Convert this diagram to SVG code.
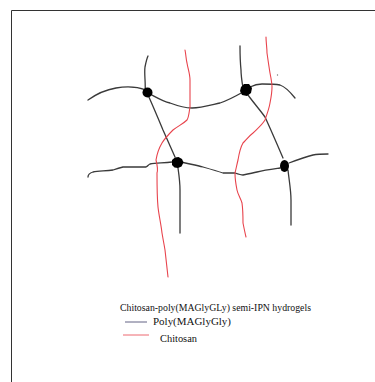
<svg xmlns="http://www.w3.org/2000/svg" width="375" height="382" viewBox="0 0 375 382">
  <style>
    .net { fill: none; stroke: #3a3a3a; stroke-width: 1.3; stroke-linecap: round; stroke-linejoin: round; }
    .chain { fill: none; stroke: #e8434c; stroke-width: 1.1; stroke-linecap: round; stroke-linejoin: round; }
    .xlink { fill: #000; }
    .label { font-family: "Liberation Serif", "Times New Roman", serif; font-size: 10.5px; fill: #111; }
  </style>
  <rect width="375" height="382" fill="#fff"/>
  <!-- page frame -->
  <path d="M11.5 382 V10.5 H375" fill="none" stroke="#333" stroke-width="1"/>

  <!-- poly(MAGlyGly) network strands and chitosan chains -->
  <g id="connectors">
    <path class="net" d="M145 93 C146 84 144 74 145 67 C146 62 147 58 148 56"/>
    <path class="net" d="M146 90 C138 87 127 86 116 88 C104 90 95 95 88 100"/>
    <path class="net" d="M148 93 C156 97 162 101 170 103 C178 106 185 108 192 108 C201 108 211 105 220 103 C229 100 236 96 243 92"/>
    <path class="net" d="M243 88 C242 82 241 76 241 70 C240 60 240 52 240 46"/>
    <path class="net" d="M250 87 C254 85 258 84 262 84 C268 84 275 84 280 85 C286 87 291 93 295 98"/>
    <path class="net" d="M148 95 C153 106 158 118 163 130 C167 139 171 148 175 157"/>
    <path class="net" d="M248 95 C253 102 260 110 265 117 C271 130 277 144 283 158"/>
    <path class="net" d="M172 162 C164 163 156 163 150 164 C148 165 148 166 146 167 C138 167 130 167 123 167 C119 168 116 169 113 170 C106 171 99 171 93 172 C90 173 88 175 88 177"/>
    <path class="net" d="M181 162 C189 164 196 165 203 167 C210 169 217 171 223 173 C227 173 231 173 235 173 C238 174 241 175 243 175 C248 174 253 173 257 172 C265 170 273 169 280 168"/>
    <path class="net" d="M289 163 C297 160 305 157 313 155 C318 154 323 154 328 154"/>
    <path class="net" d="M178 168 C179 175 180 183 180 190 C180 205 180 220 180 233"/>
    <path class="net" d="M288 170 C289 180 291 190 291 200 C291 209 291 217 291 225"/>

    <path class="chain" d="M185 50 C186 55 186 59 187 63 C188 69 190 74 190 80 C190 89 190 98 190 107 C189 112 189 117 187 120 C183 124 178 126 173 130 C169 134 165 138 162 143 C159 148 157 154 156 160 C157 164 158 170 157 173 C157 185 157 196 158 207 C159 216 161 224 162 233 C163 239 164 244 165 250 C166 259 167 268 168 277"/>
    <path class="chain" d="M266 37 C266 42 267 48 267 53 C268 60 269 67 270 73 C271 78 272 83 272 87 C272 93 271 98 270 103 C269 109 267 114 265 120 C262 125 257 129 253 133 C249 136 246 140 243 143 C240 148 239 154 238 160 C237 164 236 169 235 173 C235 179 236 185 237 190 C238 195 241 199 242 203 C243 210 243 216 243 223 C244 228 245 233 246 237"/>
    <circle cx="277.5" cy="75" r="0.7" fill="#777"/>
  </g>

  <!-- crosslink junctions -->
  <g id="node-a"><circle class="xlink" cx="147.5" cy="92.5" r="5"/></g>
  <g id="node-b"><path class="xlink" d="M241 87 L244 84 L249 84 L252 88 L251 93 L247 96 L242 95 L240 91 Z"/></g>
  <g id="node-c"><path class="xlink" d="M172 160 L175 157.5 L178.5 157 L182 159 L183.5 162.5 L181.5 166.5 L178 168 L174.5 167.5 L172 165 Z"/></g>
  <g id="node-d"><ellipse class="xlink" cx="284.5" cy="166" rx="4.5" ry="6"/></g>

  <!-- legend -->
  <g id="legend">
    <text class="label" x="120" y="311" textLength="191" lengthAdjust="spacingAndGlyphs">Chitosan-poly(MAGlyGLy) semi-IPN hydrogels</text>
    <line x1="125" y1="322" x2="147" y2="322" stroke="#3a3a66" stroke-width="0.8"/>
    <text class="label" x="153" y="325" textLength="78" lengthAdjust="spacingAndGlyphs">Poly(MAGlyGly)</text>
    <line x1="123" y1="335" x2="149" y2="335" stroke="#e8434c" stroke-width="0.8"/>
    <text class="label" x="160" y="342" textLength="37" lengthAdjust="spacingAndGlyphs">Chitosan</text>
  </g>
</svg>
